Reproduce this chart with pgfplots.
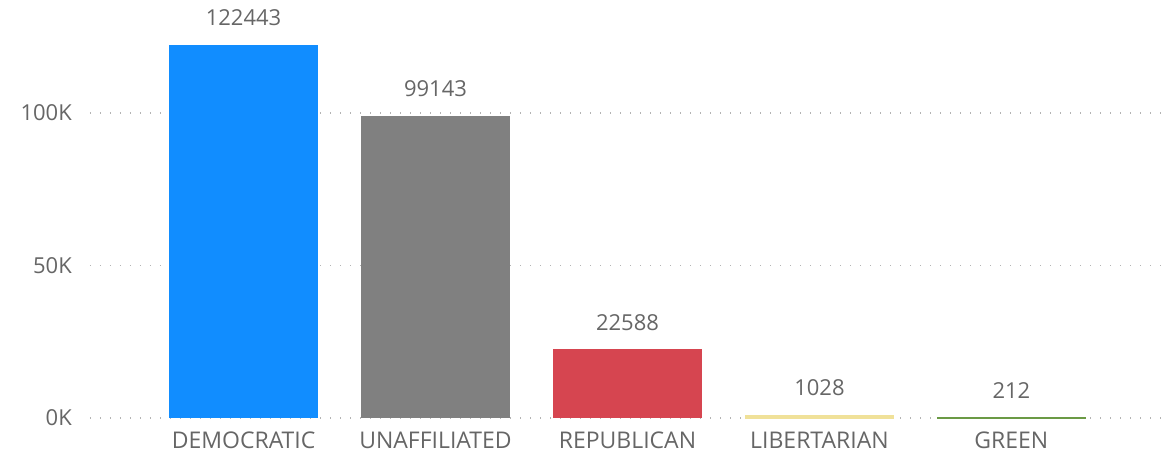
\documentclass[border=0pt]{standalone}
\usepackage{pgfplots}
\pgfplotsset{compat=1.18}
\usepackage{fontspec}
\setmainfont{Open Sans}
\definecolor{txt}{HTML}{666666}
\definecolor{gridc}{HTML}{B4B4B4}
\definecolor{cdem}{HTML}{118DFF}
\definecolor{cuna}{HTML}{808080}
\definecolor{crep}{HTML}{D64550}
\definecolor{clib}{HTML}{F0E199}
\definecolor{cgrn}{HTML}{6B9A45}
\begin{document}
\begin{tikzpicture}
\begin{axis}[
    name=ax, at={(0,0)}, anchor=south west,
    scale only axis, width=1075pt, height=418pt,
    xmin=-0.8, xmax=4.8, ymin=0, ymax=137049,
    axis line style={draw=none},
    ybar, bar width=0.772, bar shift=0pt,
    xtick={0,1,2,3,4},
    xticklabels={DEMOCRATIC,UNAFFILIATED,REPUBLICAN,LIBERTARIAN,GREEN},
    ytick={0,50000,100000}, yticklabels={0K,50K,100K},
    scaled y ticks=false,
    major tick length=0pt, tick style={draw=none},
    tick label style={font=\fontsize{22}{26}\selectfont, text=txt},
    xticklabel style={font=\fontsize{23}{27}\selectfont, inner sep=0pt, anchor=north, yshift=-14pt},
    yticklabel style={inner sep=0pt, anchor=east, xshift=-18pt},
    ymajorgrids, xmajorgrids=false,
    major grid style={gridc, line width=1.3pt, dash pattern=on 1.3pt off 8.7pt},
    nodes near coords,
    nodes near coords style={font=\fontsize{22}{26}\selectfont, text=txt, inner sep=0pt, anchor=south, yshift=18.5pt},
    point meta=explicit symbolic,
    clip=false,
]
\addplot[draw=none, fill=cdem] coordinates {(0,122443) [122443]};
\addplot[draw=none, fill=cuna] coordinates {(1,99143) [99143]};
\addplot[draw=none, fill=crep] coordinates {(2,22588) [22588]};
\addplot[draw=clib, line width=0.6pt, fill=clib] coordinates {(3,1028) [1028]};
\addplot[draw=cgrn, line width=0.8pt, fill=cgrn] coordinates {(4,212) [212]};
\end{axis}
\pgfresetboundingbox
\path[use as bounding box] (-90pt,-38pt) rectangle (1080pt,418pt);
\end{tikzpicture}
\end{document}
